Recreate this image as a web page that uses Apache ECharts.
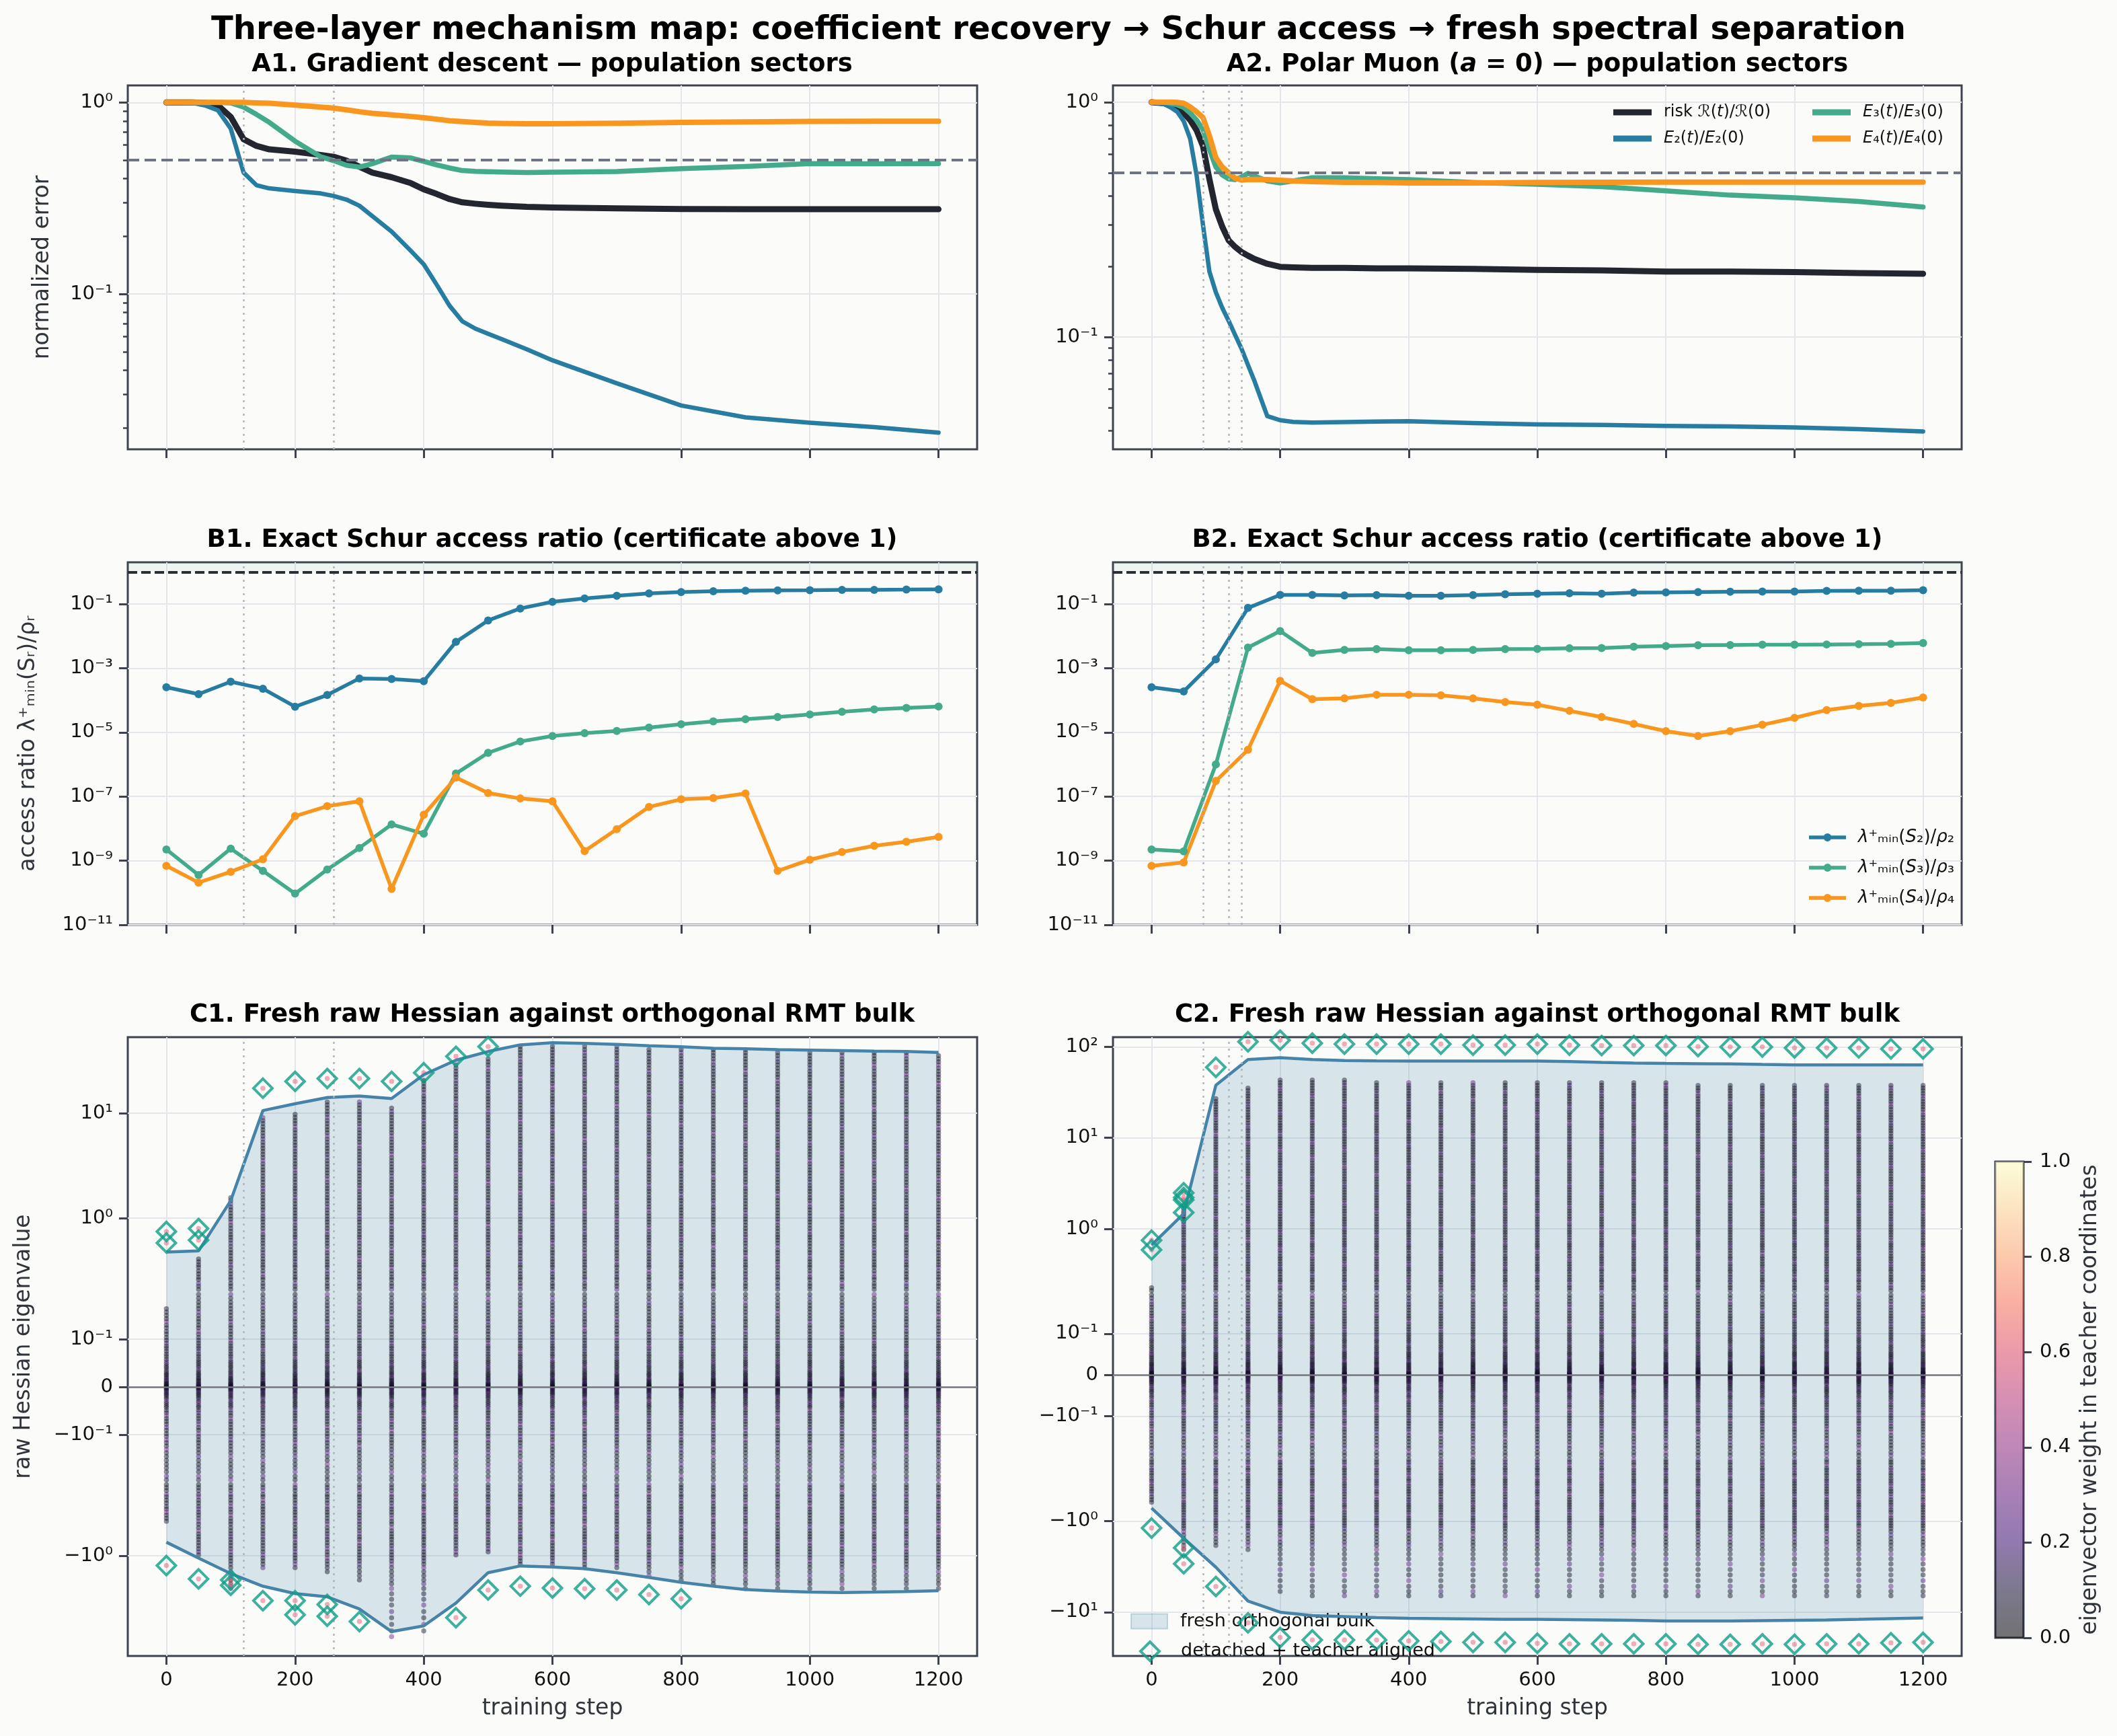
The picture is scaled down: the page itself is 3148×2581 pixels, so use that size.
<!DOCTYPE html>
<html>
<head>
<meta charset="utf-8">
<script src="https://cdn.jsdelivr.net/npm/echarts@6/dist/echarts.min.js"></script>
<style>
  html, body { margin: 0; padding: 0; background: #fbfbf9; }
  #chart { width: 3148px; height: 2581px; }
</style>
</head>
<body>
<div id="chart"></div>
<script>
const FONT = 'DejaVu Sans'
const X_TICKS = [0, 200, 400, 600, 800, 1000, 1200]

// A1: gradient descent, population sectors (normalized)
const A1_STEPS = [0, 40, 60, 80, 100, 120, 140, 160, 200, 240, 260, 280, 300, 320, 350, 380, 400, 420, 440, 460, 480, 500, 520, 560, 600, 700, 800, 900, 1000, 1100, 1200]
const A1_RISK = [1, 1, 0.995, 0.965, 0.84, 0.643, 0.593, 0.569, 0.553, 0.532, 0.52, 0.497, 0.462, 0.43, 0.407, 0.379, 0.352, 0.333, 0.313, 0.301, 0.296, 0.292, 0.289, 0.285, 0.283, 0.28, 0.278, 0.277, 0.277, 0.277, 0.277]
const A1_E2 = [1, 0.995, 0.965, 0.91, 0.73, 0.43, 0.37, 0.356, 0.345, 0.335, 0.325, 0.311, 0.289, 0.255, 0.212, 0.168, 0.143, 0.112, 0.087, 0.072, 0.066, 0.062, 0.0584, 0.0515, 0.0451, 0.0342, 0.0262, 0.0227, 0.0213, 0.0202, 0.0189]
const A1_E3 = [1, 1, 1, 1, 0.995, 0.945, 0.866, 0.787, 0.628, 0.52, 0.497, 0.47, 0.46, 0.479, 0.519, 0.513, 0.493, 0.472, 0.455, 0.441, 0.437, 0.435, 0.433, 0.431, 0.432, 0.436, 0.451, 0.463, 0.479, 0.478, 0.479]
const A1_E4 = [1, 1, 1, 1, 1, 1, 0.995, 0.99, 0.968, 0.945, 0.934, 0.915, 0.894, 0.877, 0.862, 0.845, 0.832, 0.818, 0.803, 0.794, 0.786, 0.78, 0.777, 0.774, 0.774, 0.779, 0.786, 0.792, 0.796, 0.797, 0.797]

// A2: polar Muon, population sectors (normalized)
const A2_STEPS = [0, 20, 30, 40, 50, 60, 70, 80, 90, 100, 110, 120, 130, 140, 150, 160, 180, 200, 220, 250, 300, 350, 400, 500, 600, 700, 800, 900, 1000, 1100, 1200]
const A2_RISK = [1, 0.99, 0.975, 0.95, 0.9, 0.84, 0.76, 0.65, 0.47, 0.35, 0.295, 0.258, 0.242, 0.23, 0.222, 0.215, 0.205, 0.199, 0.198, 0.197, 0.197, 0.196, 0.196, 0.195, 0.193, 0.192, 0.19, 0.19, 0.189, 0.187, 0.186]
const A2_E2 = [1, 0.98, 0.95, 0.91, 0.83, 0.7, 0.49, 0.3, 0.19, 0.155, 0.133, 0.117, 0.102, 0.089, 0.076, 0.065, 0.046, 0.0442, 0.0435, 0.0432, 0.0434, 0.0436, 0.0438, 0.043, 0.0424, 0.0422, 0.0418, 0.0416, 0.0412, 0.0405, 0.0396]
const A2_E3 = [1, 1, 0.99, 0.974, 0.95, 0.9, 0.84, 0.765, 0.63, 0.53, 0.49, 0.471, 0.468, 0.48, 0.498, 0.485, 0.462, 0.453, 0.462, 0.477, 0.477, 0.472, 0.468, 0.455, 0.447, 0.437, 0.419, 0.402, 0.392, 0.378, 0.358]
const A2_E4 = [1, 1, 1, 0.998, 0.99, 0.955, 0.91, 0.86, 0.72, 0.58, 0.53, 0.5, 0.475, 0.466, 0.468, 0.469, 0.468, 0.465, 0.462, 0.459, 0.456, 0.455, 0.453, 0.453, 0.455, 0.456, 0.457, 0.457, 0.457, 0.457, 0.457]

// B: exact Schur access ratios
const B_STEPS = [0, 50, 100, 150, 200, 250, 300, 350, 400, 450, 500, 550, 600, 650, 700, 750, 800, 850, 900, 950, 1000, 1050, 1100, 1150, 1200]
const B1_S2 = [2.55e-4, 1.55e-4, 3.8e-4, 2.3e-4, 6.3e-5, 1.46e-4, 4.8e-4, 4.6e-4, 3.95e-4, 6.6e-3, 0.0308, 0.0727, 0.117, 0.149, 0.182, 0.214, 0.236, 0.251, 0.261, 0.266, 0.271, 0.277, 0.277, 0.282, 0.288]
const B1_S3 = [2.24e-9, 3.57e-10, 2.38e-9, 4.8e-10, 9.4e-11, 5.3e-10, 2.5e-9, 1.35e-8, 6.9e-9, 5.2e-7, 2.3e-6, 5.2e-6, 7.7e-6, 9.5e-6, 1.11e-5, 1.41e-5, 1.79e-5, 2.19e-5, 2.57e-5, 3.0e-5, 3.6e-5, 4.4e-5, 5.2e-5, 5.8e-5, 6.4e-5]
const B1_S4 = [6.9e-10, 2.08e-10, 4.5e-10, 1.11e-9, 2.46e-8, 5.0e-8, 7.1e-8, 1.32e-10, 2.7e-8, 3.9e-7, 1.29e-7, 8.7e-8, 7.1e-8, 2.0e-9, 9.6e-9, 4.75e-8, 8.2e-8, 9.0e-8, 1.24e-7, 4.8e-10, 1.07e-9, 1.87e-9, 2.9e-9, 3.9e-9, 5.5e-9]
const B2_S2 = [2.55e-4, 1.89e-4, 1.88e-3, 0.0756, 0.193, 0.193, 0.186, 0.19, 0.182, 0.182, 0.19, 0.201, 0.21, 0.218, 0.21, 0.227, 0.231, 0.236, 0.241, 0.246, 0.246, 0.256, 0.261, 0.261, 0.271]
const B2_S3 = [2.24e-9, 1.95e-9, 1.0e-6, 4.4e-3, 0.0144, 2.98e-3, 3.7e-3, 3.94e-3, 3.63e-3, 3.63e-3, 3.7e-3, 3.94e-3, 4.0e-3, 4.18e-3, 4.26e-3, 4.7e-3, 4.9e-3, 5.2e-3, 5.3e-3, 5.4e-3, 5.4e-3, 5.5e-3, 5.6e-3, 5.75e-3, 6.1e-3]
const B2_S4 = [6.9e-10, 8.8e-10, 3.05e-7, 2.85e-6, 4.04e-4, 1.08e-4, 1.15e-4, 1.49e-4, 1.49e-4, 1.43e-4, 1.15e-4, 8.85e-5, 7.24e-5, 4.68e-5, 3.0e-5, 1.83e-5, 1.09e-5, 7.7e-6, 1.09e-5, 1.72e-5, 2.84e-5, 4.96e-5, 6.7e-5, 8.3e-5, 1.22e-4]

// C: fresh raw Hessian vs orthogonal RMT bulk
const C_STEPS = [0, 50, 100, 150, 200, 250, 300, 350, 400, 450, 500, 550, 600, 650, 700, 750, 800, 850, 900, 950, 1000, 1050, 1100, 1150, 1200]
const C1_BULK_HI = [0.477, 0.488, 1.47, 10.6, 12.3, 14.1, 14.6, 13.8, 23.3, 32.0, 38.7, 44.8, 46.9, 46.3, 45.3, 43.9, 43.0, 41.6, 41.1, 40.3, 39.9, 39.5, 39.0, 38.7, 37.9]
const C1_BULK_LO = [-0.743, -1.054, -1.48, -1.95, -2.29, -2.46, -3.21, -5.28, -4.65, -2.82, -1.45, -1.25, -1.28, -1.33, -1.45, -1.61, -1.79, -1.95, -2.1, -2.17, -2.22, -2.24, -2.22, -2.19, -2.15]
const C2_BULK_HI = [0.664, 1.47, 37.9, 72.6, 76.2, 72.6, 70.8, 70.2, 70.0, 70.0, 70.0, 70.0, 70.0, 69.0, 67.5, 66.5, 65.8, 65.4, 65.0, 64.2, 63.5, 63.5, 63.5, 63.5, 63.5]
const C2_BULK_LO = [-0.718, -1.54, -3.2, -7.55, -10.0, -10.9, -11.2, -11.5, -11.7, -11.8, -11.9, -12.0, -12.0, -12.1, -12.2, -12.3, -12.5, -12.5, -12.5, -12.4, -12.3, -12.2, -12.0, -11.8, -11.6]
// visible extent of the eigenvalue columns per step
const C1_DOT_HI = [0.17, 0.43, 1.6, 9.3, 9.8, 13, 13, 11.5, 21.7, 30.5, 35, 45, 46, 45, 44, 43, 42, 41, 40.5, 40, 39.5, 39, 38.5, 38, 37.5]
const C1_DOT_LO = [-0.49, -1.0, -2.2, -1.3, -1.3, -1.5, -1.75, -6.0, -5.2, -1.0, -0.95, -1.2, -1.25, -1.3, -1.4, -1.6, -1.8, -2.0, -2.1, -2.15, -2.2, -2.2, -2.2, -2.2, -2.15]
const C2_DOT_HI = [0.23, 1.8, 28, 36, 46, 44, 44, 43, 43, 43, 43, 42, 42, 42, 41, 41, 41, 40, 40, 40, 40, 39, 39, 39, 39]
const C2_DOT_LO = [-0.65, -2.2, -1.9, -2.2, -6.5, -6.7, -6.7, -6.7, -6.7, -6.7, -6.7, -6.7, -6.8, -6.8, -6.8, -6.8, -6.8, -6.8, -6.8, -6.8, -6.8, -6.8, -6.8, -6.8, -6.8]
// eigenvalues seen in a typical column, and their teacher weights
const BULK_POS = [0.001, 0.002, 0.004, 0.006, 0.008, 0.011, 0.014, 0.017, 0.02, 0.024, 0.027, 0.031, 0.035, 0.04, 0.044, 0.049, 0.053, 0.058, 0.064, 0.069, 0.075, 0.081, 0.086, 0.092, 0.098, 0.104, 0.111, 0.117, 0.124, 0.13, 0.137, 0.143, 0.15, 0.157, 0.164, 0.171, 0.178, 0.186, 0.194,
  0.21, 0.225, 0.24, 0.26, 0.275, 0.295, 0.315, 0.34, 0.36, 0.385, 0.41, 0.44, 0.47, 0.5, 0.54, 0.58, 0.62, 0.66, 0.7, 0.75, 0.8, 0.86, 0.92, 0.98, 1.05, 1.12, 1.2, 1.28, 1.37, 1.47, 1.57, 1.68, 1.8, 1.92, 2.05, 2.2, 2.35, 2.52, 2.7, 2.88, 3.08, 3.3, 3.53, 3.78, 4.05, 4.33, 4.63, 4.95, 5.3, 5.67, 6.07, 6.5, 6.95, 7.44, 7.96, 8.5, 9.1, 9.75, 10.4, 11.2, 12, 12.8, 13.7, 14.6, 15.7, 16.8, 17.9, 19.2, 20.5, 22, 23.5, 25.1, 26.9, 28.8, 30.8, 33, 35.3, 37.7, 40.4, 43.2, 46.2]
const BULK_NEG = [-0.001, -0.003, -0.005, -0.008, -0.011, -0.014, -0.017, -0.021, -0.025, -0.03, -0.034, -0.039, -0.043, -0.049, -0.054, -0.06, -0.066, -0.072, -0.078, -0.085, -0.091, -0.098, -0.104, -0.111, -0.117, -0.124, -0.131, -0.138, -0.146, -0.154, -0.162, -0.17, -0.178, -0.187, -0.195,
  -0.21, -0.225, -0.24, -0.26, -0.275, -0.295, -0.315, -0.34, -0.36, -0.385, -0.41, -0.44, -0.47, -0.5, -0.54, -0.58, -0.62, -0.66, -0.7, -0.75, -0.8, -0.86, -0.92, -0.98, -1.05, -1.12, -1.2, -1.3, -1.42, -1.55, -1.7, -1.85, -2.05, -2.3, -2.6, -2.95, -3.4, -3.9, -4.5, -5.2, -5.9, -6.6]
const W_POS = [0.04, 0.06, 0.02, 0.05, 0.08, 0.03, 0.05, 0.22, 0.04, 0.07, 0.02, 0.05, 0.1, 0.03, 0.06, 0.04, 0.28, 0.05, 0.03, 0.08, 0.02, 0.06, 0.04, 0.18, 0.05, 0.07, 0.03, 0.06, 0.09, 0.04, 0.3, 0.05, 0.03, 0.07, 0.04, 0.06, 0.25]
const W_NEG = [0.05, 0.03, 0.07, 0.04, 0.2, 0.06, 0.02, 0.08, 0.04, 0.26, 0.06, 0.03, 0.05, 0.1, 0.04, 0.3, 0.06, 0.03, 0.07, 0.22, 0.05, 0.04, 0.09, 0.28, 0.06, 0.03, 0.33, 0.07, 0.05]
// detached + teacher aligned eigenvalues
const C1_DET_STEP = [0, 0, 50, 50, 150, 200, 250, 300, 350, 400, 450, 500, 0, 50, 100, 100, 150, 200, 200, 250, 250, 300, 450, 500, 550, 600, 650, 700, 750, 800]
const C1_DET_VAL = [0.748, 0.581, 0.798, 0.618, 17.3, 20.1, 21.4, 21.4, 20.1, 24.3, 34.8, 43.1, -1.24, -1.66, -1.7, -1.91, -2.68, -2.68, -3.65, -2.91, -3.77, -4.23, -3.89, -2.12, -1.95, -2.03, -2.06, -2.12, -2.34, -2.57]
const C2_DET_STEP = [0, 0, 50, 50, 50, 50, 100, 150, 200, 250, 300, 350, 400, 450, 500, 550, 600, 650, 700, 750, 800, 850, 900, 950, 1000, 1050, 1100, 1150, 1200,
  0, 50, 50, 100, 150, 200, 250, 300, 350, 400, 450, 500, 550, 600, 650, 700, 750, 800, 850, 900, 950, 1000, 1050, 1100, 1150, 1200]
const C2_DET_VAL = [0.75, 0.588, 2.49, 2.21, 2.08, 1.51, 59.7, 114, 118.6, 110, 107.4, 107.4, 107.4, 107.4, 104.7, 104.7, 107.4, 104.7, 103.5, 103.5, 103.5, 101, 99.8, 99.8, 97.5, 97.5, 97.5, 95.1, 95.1,
  -1.19, -1.96, -2.94, -5.22, -13.1, -19.0, -20.2, -20.2, -20.2, -20.7, -21.0, -21.5, -21.5, -22.0, -22.3, -22.3, -22.3, -22.3, -22.6, -22.6, -22.3, -22.6, -22.3, -22.3, -21.7, -21.5]

// tick labels
const A_TICK_VALS = [1, 0.1]
const A_TICK_LABELS = ['10⁰', '10⁻¹']
const A_MINOR_VALS = [0.02, 0.03, 0.04, 0.05, 0.06, 0.07, 0.08, 0.09, 0.2, 0.3, 0.4, 0.5, 0.6, 0.7, 0.8, 0.9]
const B_TICK_VALS = [1e-1, 1e-3, 1e-5, 1e-7, 1e-9, 1e-11]
const B_TICK_LABELS = ['10⁻¹', '10⁻³', '10⁻⁵', '10⁻⁷', '10⁻⁹', '10⁻¹¹']
const C_TICK_VALS = [100, 10, 1, 0.1, 0, -0.1, -1, -10]
const C_TICK_LABELS = ['10²', '10¹', '10⁰', '10⁻¹', '0', '−10⁻¹', '−10⁰', '−10¹']
const CB_TICKS = [0, 0.2, 0.4, 0.6, 0.8, 1.0]
const MAGMA = ['#000004', '#140e36', '#3b0f70', '#641a80', '#8c2981', '#b73779', '#de4968', '#f7705c', '#fe9f6d', '#fecf92', '#fcfdbf']

const COL = { risk: '#23262f', e2: '#277da1', e3: '#43aa8b', e4: '#f8961e' }
const FRAME = '#3d424d'
const GRIDC = '#e4e6ec'
const BAND = 'rgba(42,123,160,0.17)'
const EDGE = '#4584a8'
const TEAL = '#0f9e87'
// legend glyph for the B panels: thick line with a round marker in the middle
const LINE_MARKER_ICON = 'path://M0,5.25L55,5.25L55,10.75L0,10.75Z M21.5,8a6,6 0 1,1 12,0a6,6 0 1,1 -12,0Z'

// symlog-like transform used by the C panels
const LIN = 0.2, LINSCALE = 0.908
function symT(v) {
  const a = Math.abs(v)
  const t = a <= LIN ? a / LIN * LINSCALE : Math.log10(a / LIN) + LINSCALE
  return v < 0 ? -t : t
}
function rgba(hex, a) {
  const n = parseInt(hex.slice(1), 16)
  return 'rgba(' + (n >> 16) + ',' + ((n >> 8) & 255) + ',' + (n & 255) + ',' + a + ')'
}
const MAGMA_A = MAGMA.map(c => rgba(c, 0.55))

function pick(ticks, labels) {
  return function (v) {
    for (let i = 0; i < ticks.length; i++) if (Math.abs(ticks[i] - v) < 1e-6) return labels[i]
    return ''
  }
}

const chart = echarts.init(document.getElementById('chart'), null, { renderer: 'canvas' })

const grids = [
  { left: 190, top: 127, width: 1263, height: 541 },
  { left: 1655, top: 127, width: 1262, height: 541 },
  { left: 190, top: 836, width: 1263, height: 539 },
  { left: 1655, top: 836, width: 1262, height: 539 },
  { left: 190, top: 1542, width: 1263, height: 920 },
  { left: 1655, top: 1542, width: 1262, height: 920 },
  { left: 2967, top: 1727, width: 42, height: 708 }
].map(g => Object.assign({ show: true, borderColor: FRAME, borderWidth: 3, backgroundColor: 'transparent' }, g))

const nameStyle = { fontSize: 33, color: '#2f333a', fontFamily: FONT }
const tickLabel = { fontSize: 29, color: '#111', fontFamily: FONT }

const xAxes = []
for (let i = 0; i < 6; i++) {
  xAxes.push({
    type: 'value', gridIndex: i, min: -60, max: 1260, position: 'bottom',
    axisLine: { show: false, onZero: false },
    axisTick: { show: true, customValues: X_TICKS, length: 13, lineStyle: { color: FRAME, width: 3 } },
    axisLabel: Object.assign({ show: i >= 4, customValues: X_TICKS, margin: 22, formatter: v => String(v) }, tickLabel),
    splitLine: { show: true, lineStyle: { color: GRIDC, width: 2 } },
    name: i >= 4 ? 'training step' : '', nameLocation: 'middle', nameGap: 62, nameTextStyle: nameStyle
  })
}
xAxes.push({ type: 'category', gridIndex: 6, data: [''], show: false })

function yAxis(gi, min, max, vals, labels, name, gap) {
  return {
    type: 'value', gridIndex: gi, min, max, position: 'left',
    axisLine: { show: false, onZero: false },
    axisTick: { show: true, customValues: vals, length: 13, lineStyle: { color: FRAME, width: 3 } },
    axisLabel: Object.assign({ customValues: vals, margin: 22, formatter: pick(vals, labels) }, tickLabel),
    splitLine: { show: true, lineStyle: { color: GRIDC, width: 2 } },
    name, nameLocation: 'middle', nameRotate: 90, nameGap: gap, nameTextStyle: nameStyle
  }
}
function minorAxis(gi, min, max) {
  return {
    type: 'value', gridIndex: gi, min, max, position: 'left',
    axisLine: { show: false, onZero: false },
    axisTick: { show: true, customValues: A_MINOR_VALS.map(Math.log10), length: 7, lineStyle: { color: FRAME, width: 2.5 } },
    axisLabel: { show: false }, splitLine: { show: false }
  }
}
const aLog = A_TICK_VALS.map(Math.log10)
const bLog = B_TICK_VALS.map(Math.log10)
const cT = C_TICK_VALS.map(symT)
const yAxes = [
  yAxis(0, -1.8105, 0.0888, aLog, A_TICK_LABELS, 'normalized error', 110),
  yAxis(1, -1.4785, 0.0716, aLog, A_TICK_LABELS, '', 0),
  yAxis(2, -11, 0.301, bLog, B_TICK_LABELS, 'access ratio λ⁺ₘᵢₙ(Sᵣ)/ρᵣ', 131),
  yAxis(3, -11, 0.301, bLog, B_TICK_LABELS, '', 0),
  yAxis(4, symT(-9.0), symT(53), cT, C_TICK_LABELS, 'raw Hessian eigenvalue', 138),
  yAxis(5, symT(-30.3), symT(128), cT, C_TICK_LABELS, '', 0),
  {
    type: 'value', gridIndex: 6, min: 0, max: 1, position: 'right',
    axisLine: { show: false },
    axisTick: { show: true, customValues: CB_TICKS, length: 12, lineStyle: { color: FRAME, width: 3 } },
    axisLabel: Object.assign({ customValues: CB_TICKS, margin: 24, formatter: v => v.toFixed(1) }, tickLabel),
    splitLine: { show: false },
    name: 'eigenvector weight in teacher coordinates', nameLocation: 'middle', nameRotate: 90, nameGap: 83, nameTextStyle: nameStyle
  },
  minorAxis(0, -1.8105, 0.0888),
  minorAxis(1, -1.4785, 0.0716)
]

const series = []
function guides(i, vlines, hlines, area) {
  const s = {
    type: 'line', xAxisIndex: i, yAxisIndex: i, data: [], z: 1, silent: true,
    markLine: {
      silent: true, symbol: ['none', 'none'], label: { show: false }, animation: false,
      lineStyle: { type: [3, 7], color: '#b1b4ba', width: 2.5 },
      emphasis: { disabled: true },
      data: vlines.map(x => ({ xAxis: x })).concat(hlines)
    }
  }
  if (area) s.markArea = { silent: true, itemStyle: { color: 'rgba(67,170,139,0.07)' }, data: [[{ yAxis: 0 }, { yAxis: 0.301 }]] }
  series.push(s)
}
function lineA(i, name, steps, vals, color, width, z) {
  series.push({
    type: 'line', name, xAxisIndex: i, yAxisIndex: i, color, symbol: 'none', showSymbol: false, silent: true, z,
    lineStyle: { width, color, cap: 'round', join: 'round' },
    data: steps.map((s, k) => [s, Math.log10(vals[k])])
  })
}
function lineB(i, name, vals, color) {
  series.push({
    type: 'line', name, xAxisIndex: i, yAxisIndex: i, color, symbol: 'circle', symbolSize: 12, showSymbol: true, silent: true, z: 3,
    lineStyle: { width: 5.5, color }, itemStyle: { color },
    data: B_STEPS.map((s, k) => [s, Math.log10(vals[k])])
  })
}
function cPanel(i, hi, lo, dotHi, dotLo, detStep, detVal) {
  series.push({
    type: 'custom', name: 'fresh orthogonal bulk', xAxisIndex: i, yAxisIndex: i, z: 2, silent: true,
    itemStyle: { color: BAND },
    data: C_STEPS.map((s, k) => [s, symT(lo[k]), symT(hi[k])]),
    encode: { x: 0, y: [1, 2] },
    renderItem: (params, api) => {
      if (params.dataIndex !== 0) return null
      const top = C_STEPS.map((s, k) => api.coord([s, symT(hi[k])]))
      const bot = C_STEPS.map((s, k) => api.coord([s, symT(lo[k])])).reverse()
      return { type: 'polygon', shape: { points: top.concat(bot) }, style: { fill: BAND } }
    }
  })
  const dots = []
  C_STEPS.forEach((s, k) => {
    BULK_POS.forEach((v, j) => { if (v <= dotHi[k]) dots.push([s, symT(v), W_POS[(j + 3 * k) % W_POS.length]]) })
    BULK_NEG.forEach((v, j) => { if (v >= dotLo[k]) dots.push([s, symT(v), W_NEG[(j + 5 * k) % W_NEG.length]]) })
  })
  detStep.forEach((s, k) => dots.push([s, symT(detVal[k]), 0.6]))
  const dotIndex = series.length
  series.push({ type: 'scatter', xAxisIndex: i, yAxisIndex: i, z: 3, silent: true, symbolSize: 7.5, data: dots })
  ;[hi, lo].forEach(edge => series.push({
    type: 'line', xAxisIndex: i, yAxisIndex: i, z: 4, silent: true, symbol: 'none', color: EDGE,
    lineStyle: { width: 4.5, color: EDGE },
    data: C_STEPS.map((s, k) => [s, symT(edge[k])])
  }))
  series.push({
    type: 'scatter', name: 'detached + teacher aligned', xAxisIndex: i, yAxisIndex: i, z: 5, silent: true,
    symbol: 'diamond', symbolSize: 28, color: TEAL,
    itemStyle: { color: 'rgba(0,0,0,0)', borderColor: TEAL, borderWidth: 4 },
    data: detStep.map((s, k) => [s, symT(detVal[k])])
  })
  return dotIndex
}

// A panels
const halfLine = { yAxis: Math.log10(0.5), lineStyle: { type: [17, 8], color: '#6f7482', width: 4 } }
guides(0, [120, 260], [halfLine])
lineA(0, 'risk', A1_STEPS, A1_RISK, COL.risk, 9, 3)
lineA(0, 'E2', A1_STEPS, A1_E2, COL.e2, 6.5, 3)
lineA(0, 'E3', A1_STEPS, A1_E3, COL.e3, 7.5, 3)
lineA(0, 'E4', A1_STEPS, A1_E4, COL.e4, 8, 3)
guides(1, [80, 120, 140], [halfLine])
lineA(1, 'risk', A2_STEPS, A2_RISK, COL.risk, 9, 3)
lineA(1, 'E2', A2_STEPS, A2_E2, COL.e2, 6.5, 3)
lineA(1, 'E3', A2_STEPS, A2_E3, COL.e3, 7.5, 3)
lineA(1, 'E4', A2_STEPS, A2_E4, COL.e4, 8, 3)

// B panels
const certLine = { yAxis: 0, lineStyle: { type: [14, 6], color: '#2b2e36', width: 4 } }
guides(2, [120, 260], [certLine], true)
lineB(2, 'S2', B1_S2, COL.e2)
lineB(2, 'S3', B1_S3, COL.e3)
lineB(2, 'S4', B1_S4, COL.e4)
guides(3, [80, 120, 140], [certLine], true)
lineB(3, 'S2', B2_S2, COL.e2)
lineB(3, 'S3', B2_S3, COL.e3)
lineB(3, 'S4', B2_S4, COL.e4)

// C panels
const zeroLine = { yAxis: 0, lineStyle: { type: 'solid', color: '#74777e', width: 2.5 } }
guides(4, [120, 260], [zeroLine])
const d1 = cPanel(4, C1_BULK_HI, C1_BULK_LO, C1_DOT_HI, C1_DOT_LO, C1_DET_STEP, C1_DET_VAL)
guides(5, [80, 120, 140], [zeroLine])
const d2 = cPanel(5, C2_BULK_HI, C2_BULK_LO, C2_DOT_HI, C2_DOT_LO, C2_DET_STEP, C2_DET_VAL)

// colorbar
series.push({
  type: 'bar', xAxisIndex: 6, yAxisIndex: 6, barWidth: '100%', silent: true, data: [1],
  itemStyle: { color: new echarts.graphic.LinearGradient(0, 1, 0, 0, MAGMA_A.map((c, k) => ({ offset: k / (MAGMA_A.length - 1), color: c }))) }
})

const legendText = { fontSize: 24, color: '#111', fontFamily: FONT, padding: [0, 0, 0, 13],
  rich: { i: { fontSize: 24, fontStyle: 'italic', fontFamily: FONT, color: '#111' } } }
const legendNames = {
  risk: 'risk ℛ({i|t})/ℛ(0)',
  E2: '{i|E}₂({i|t})/{i|E}₂(0)',
  E3: '{i|E}₃({i|t})/{i|E}₃(0)',
  E4: '{i|E}₄({i|t})/{i|E}₄(0)',
  S2: '{i|λ}⁺ₘᵢₙ({i|S}₂)/{i|ρ}₂',
  S3: '{i|λ}⁺ₘᵢₙ({i|S}₃)/{i|ρ}₃',
  S4: '{i|λ}⁺ₘᵢₙ({i|S}₄)/{i|ρ}₄'
}
const fmt = n => legendNames[n] || n
const bLegendText = { fontSize: 26, color: '#111', fontFamily: FONT, padding: [0, 0, 0, 13],
  rich: { i: { fontSize: 26, fontStyle: 'italic', fontFamily: FONT, color: '#111' } } }
const legends = [
  { data: ['risk', 'E2'], left: 2394, top: 150, orient: 'vertical', icon: 'rect', itemWidth: 57, itemHeight: 9, itemGap: 15, selectedMode: false, formatter: fmt, textStyle: legendText },
  { data: ['E3', 'E4'], left: 2690, top: 150, orient: 'vertical', icon: 'rect', itemWidth: 57, itemHeight: 9, itemGap: 15, selectedMode: false, formatter: fmt, textStyle: legendText },
  { data: ['S2', 'S3', 'S4'], left: 2685, top: 1227, orient: 'vertical', icon: LINE_MARKER_ICON, itemWidth: 55, itemHeight: 12, itemGap: 19, selectedMode: false, formatter: fmt,
    textStyle: bLegendText },
  { data: [{ name: 'fresh orthogonal bulk', icon: 'rect', itemStyle: { color: BAND, borderColor: 'rgba(42,123,160,0.25)', borderWidth: 2 } }],
    left: 1676, top: 2392, itemWidth: 54, itemHeight: 22, selectedMode: false,
    textStyle: { fontSize: 27, color: '#111', fontFamily: FONT, padding: [0, 0, 0, 14] } },
  { data: [{ name: 'detached + teacher aligned', icon: 'diamond', itemStyle: { color: 'rgba(0,0,0,0)', borderColor: TEAL, borderWidth: 4 } }],
    left: 1689, top: 2434, itemWidth: 28, itemHeight: 28, selectedMode: false,
    textStyle: { fontSize: 27, color: '#111', fontFamily: FONT, padding: [0, 0, 0, 27] } }
]

const tStyle = { fontSize: 37, fontWeight: 'bold', color: '#000', fontFamily: FONT }
const titles = [
  { text: 'Three-layer mechanism map: coefficient recovery → Schur access → fresh spectral separation', left: 1574, top: 22, textAlign: 'center',
    textStyle: { fontSize: 48, fontWeight: 'bold', color: '#000', fontFamily: FONT } },
  { text: 'A1. Gradient descent — population sectors', left: 821, top: 78, textAlign: 'center', textStyle: tStyle },
  { text: '{b|A2. Polar Muon (}{i|a}{m| = 0}{b|) — population sectors}', left: 2286, top: 78, textAlign: 'center',
    textStyle: Object.assign({}, tStyle, { rich: {
      b: { fontSize: 37, fontWeight: 'bold', color: '#000', fontFamily: FONT },
      i: { fontSize: 37, fontStyle: 'italic', color: '#000', fontFamily: FONT },
      m: { fontSize: 37, color: '#000', fontFamily: FONT } } }) },
  { text: 'B1. Exact Schur access ratio (certificate above 1)', left: 821, top: 785, textAlign: 'center', textStyle: tStyle },
  { text: 'B2. Exact Schur access ratio (certificate above 1)', left: 2286, top: 785, textAlign: 'center', textStyle: tStyle },
  { text: 'C1. Fresh raw Hessian against orthogonal RMT bulk', left: 821, top: 1491, textAlign: 'center', textStyle: tStyle },
  { text: 'C2. Fresh raw Hessian against orthogonal RMT bulk', left: 2286, top: 1491, textAlign: 'center', textStyle: tStyle }
].map(t => Object.assign({ padding: 0 }, t))

chart.setOption({
  backgroundColor: '#fbfbf9',
  animation: false,
  title: titles,
  grid: grids,
  xAxis: xAxes,
  yAxis: yAxes,
  legend: legends,
  visualMap: {
    type: 'continuous', show: false, min: 0, max: 1, dimension: 2, seriesIndex: [d1, d2],
    inRange: { color: MAGMA_A }
  },
  series
})
</script>
</body>
</html>
